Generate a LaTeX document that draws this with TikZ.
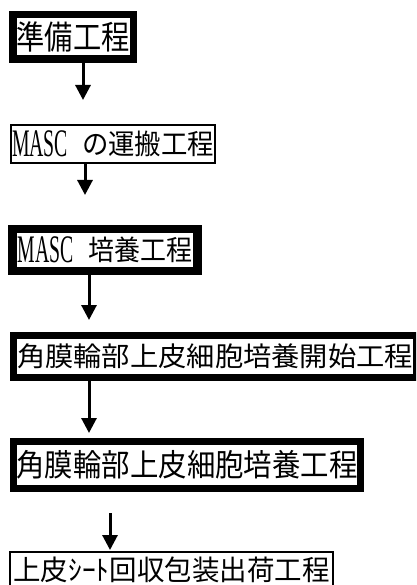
\documentclass[tikz,border=0pt]{standalone}
\usepackage{fontspec}
\usepackage{graphicx}
\usetikzlibrary{arrows.meta}
\newfontfamily\jp{Noto Sans CJK JP}
\newfontfamily\lat{Liberation Serif}
\newcommand{\fitw}[2]{\resizebox{#1}{\height}{#2}}
\newcommand{\masc}{\raisebox{-2pt}{\lat\fontsize{39}{39}\selectfont\fitw{56pt}{MASC}}}
\begin{document}
\begin{tikzpicture}[x=1pt,y=-1pt,
  thickbox/.style={draw=black, line width=7.5pt, inner sep=0pt, fill=white},
  thinbox/.style={draw=black, line width=1.2pt, inner sep=0pt, fill=white},
  arr/.style={line width=3pt, -{Triangle[width=15pt,length=15pt]}}]
\useasboundingbox (0,0) rectangle (416,585);
\clip (0,0) rectangle (416,585);
\fill[white] (0,0) rectangle (416,585);

\node[thickbox, minimum width=120.5pt, minimum height=44.5pt] (b1) at (73,37)
  {\jp\fontsize{33}{33}\selectfont\fitw{113pt}{準備工程}};
\node[thinbox, minimum width=204pt, minimum height=38pt] (b2) at (113,144)
  {\jp\fontsize{28}{28}\selectfont\masc\hspace{14pt}\fitw{132pt}{の運搬工程}};
\node[thickbox, line width=8.5pt, minimum width=185pt, minimum height=42pt] (b3) at (105,250)
  {\jp\fontsize{28}{28}\selectfont\masc\hspace{15pt}\fitw{104pt}{培養工程}};
\node[thickbox, line width=7pt, minimum width=403pt, minimum height=42pt] (b4) at (215,356)
  {\jp\fontsize{27}{27}\selectfont\fitw{396pt}{角膜輪部上皮細胞培養開始工程}};
\node[thickbox, line width=7pt, minimum width=347pt, minimum height=47pt] (b5) at (187,465)
  {\jp\fontsize{31}{31}\selectfont\fitw{341pt}{角膜輪部上皮細胞培養工程}};
\node[thinbox, minimum width=323pt, minimum height=36pt] (b6) at (171.5,570)
  {\jp\fontsize{28}{28}\selectfont\fitw{316pt}{上皮ｼｰﾄ回収包装出荷工程}};

\coordinate (t1) at (83,100);
\coordinate (t2) at (85,195);
\coordinate (t3) at (89,320);
\coordinate (t4) at (89,433);
\coordinate (s5) at (110,513);
\coordinate (t5) at (110,550);

\draw[arr] (b1.south -| t1) -- (t1);
\draw[arr] (b2.south -| t2) -- (t2);
\draw[arr] (b3.south -| t3) -- (t3);
\draw[arr] (b4.south -| t4) -- (t4);
\draw[arr] (s5) -- (t5);
\end{tikzpicture}
\end{document}
